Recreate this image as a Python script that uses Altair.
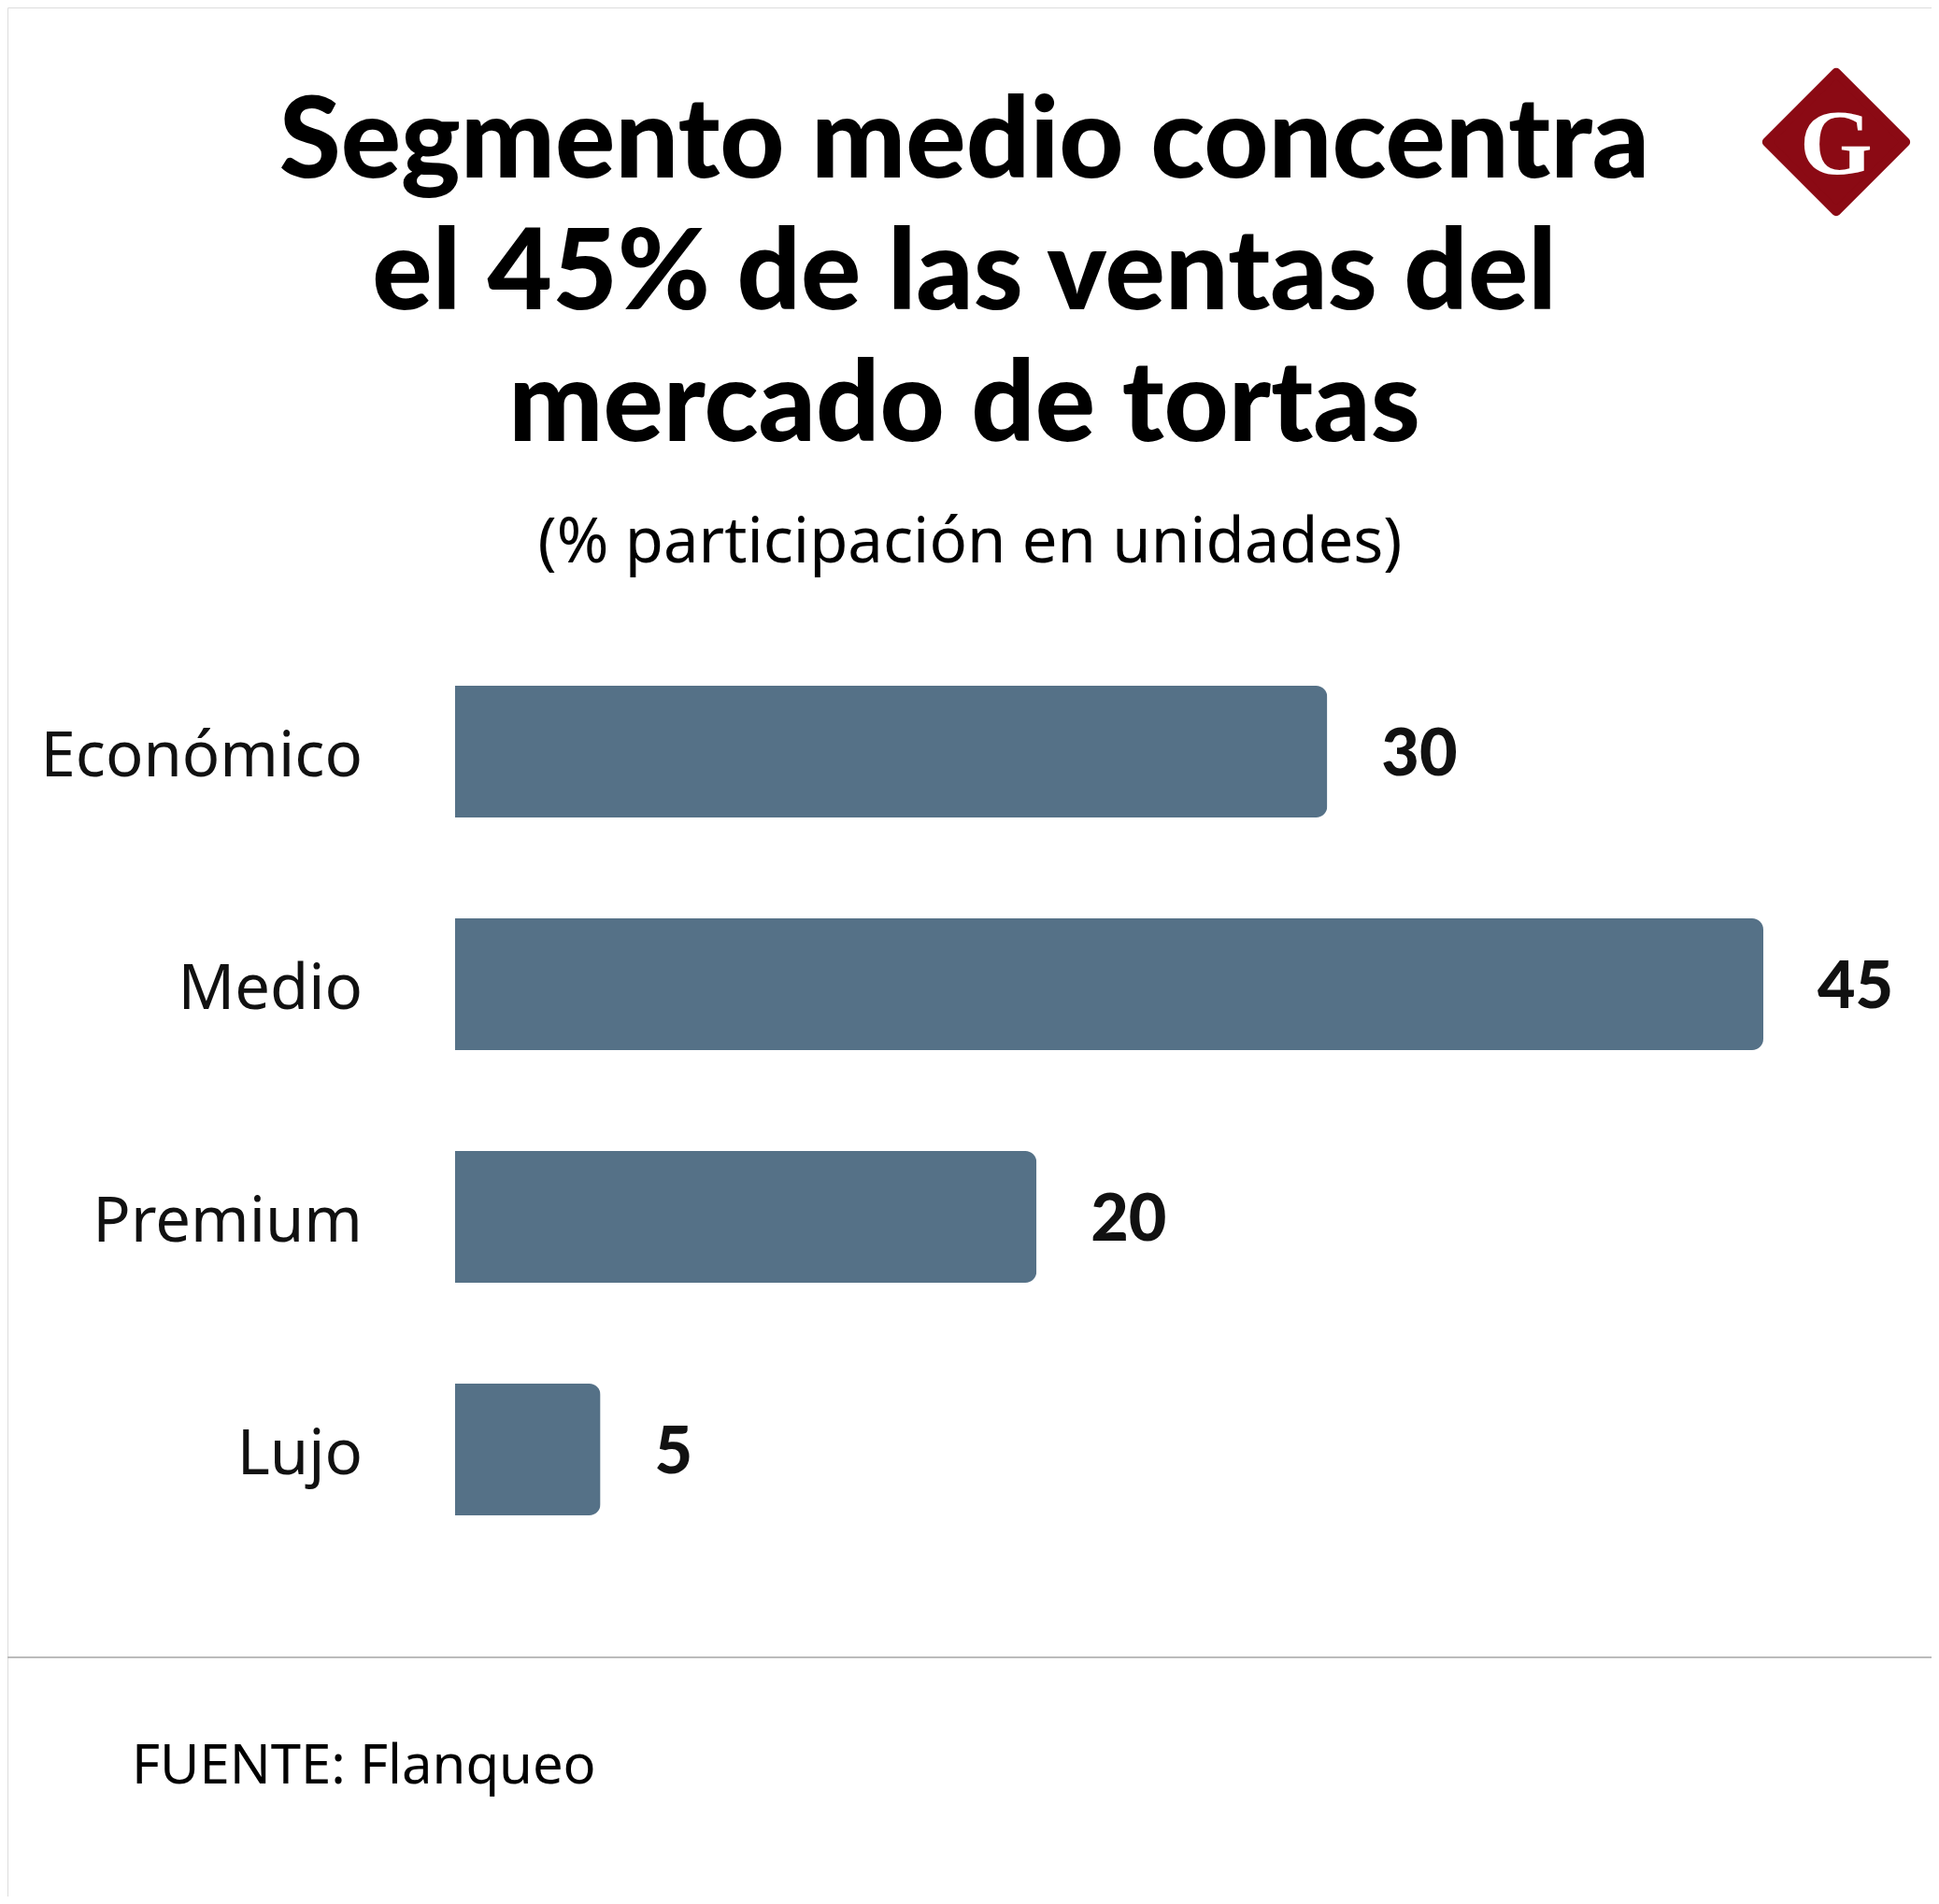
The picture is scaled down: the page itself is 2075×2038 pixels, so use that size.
import altair as alt
import pandas as pd

categories = ["Económico", "Medio", "Premium", "Lujo"]
values = [30, 45, 20, 5]
title_lines = ["Segmento medio concentra", "el 45% de las ventas del", "mercado de tortas"]
subtitle = "(% participación en unidades)"
source = "FUENTE: Flanqueo"

df = pd.DataFrame({"cat": categories, "val": values})

W, H = 2059, 2022
x = alt.X("val:Q", scale=alt.Scale(domain=[0, 45], range=[479, 1879]), axis=None)
y = alt.Y("cat:N", sort=categories,
          scale=alt.Scale(range=[672, 1668], paddingInner=0.434, paddingOuter=0.217), axis=None)

bars = alt.Chart(df).mark_bar(color="#557187", cornerRadiusTopRight=12, cornerRadiusBottomRight=12).encode(x=x, y=y)
vals = alt.Chart(df).mark_text(align="left", dx=58, dy=4, font="Lato", fontWeight=900, fontSize=70, color="#111").encode(
    x=x, y=y, text="val:Q")
labels = alt.Chart(df).mark_text(align="right", font="Noto Sans", fontSize=67, color="#111", dy=6).encode(
    x=alt.value(380), y=y, text="cat:N")

def txt(t, xx, yy, size, weight="normal", align="center", font="Lato", color="#000"):
    return alt.Chart(pd.DataFrame({"t": [t]})).mark_text(
        align=align, baseline="middle", font=font, fontSize=size, fontWeight=weight, color=color
    ).encode(x=alt.value(xx), y=alt.value(yy), text="t:N")

layers = [bars, vals, labels]
for i, line in enumerate(title_lines):
    layers.append(txt(line, 1024, 146 + i * 141, 120, weight=900))
layers.append(txt(subtitle, 1030, 574, 67, font="Noto Sans"))
layers.append(txt(source, 133, 1884, 58, align="left", font="Noto Sans"))

sep = alt.Chart(pd.DataFrame({"a": [0]})).mark_rule(color="#bbbbbb", strokeWidth=2).encode(
    x=alt.value(0), x2=alt.value(W), y=alt.value(1766))
layers.append(sep)

logo = alt.Chart(pd.DataFrame({"a": [0]})).mark_point(
    shape="diamond", filled=True, color="#8b0a14", size=22000, opacity=1, strokeJoin="round",
    stroke="#8b0a14", strokeWidth=10).encode(x=alt.value(1957), y=alt.value(144))
layers.append(logo)
layers.append(txt("G", 1957, 148, 100, weight="bold", font="Liberation Serif", color="#ffffff"))

chart = alt.layer(*layers).properties(width=W, height=H, autosize=alt.AutoSizeParams(type="none"), padding=0
).configure_view(stroke=None).configure(background="white")

chart.save("out.html", embed_options={"renderer": "svg", "actions": False})
